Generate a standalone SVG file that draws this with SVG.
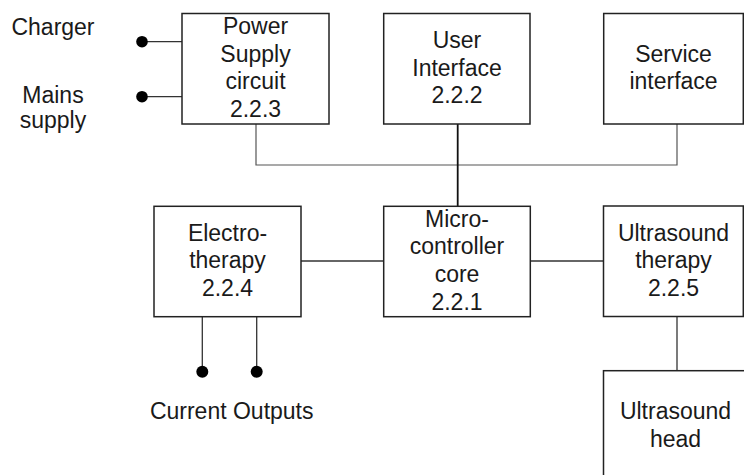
<svg xmlns="http://www.w3.org/2000/svg" width="744" height="475" viewBox="0 0 744 475">
<style>
.box{fill:#fff;stroke:#222;stroke-width:1.5}
.t{font-family:"Liberation Sans",Arial,sans-serif;font-size:23px;fill:#1a1a1a;text-anchor:middle}
.c{fill:none;stroke:#333;stroke-width:1.3}
.bus{fill:none;stroke:#555;stroke-width:1.2}
.dot{fill:#000}
</style>
<rect width="744" height="475" fill="#fff"/>
<g id="connectors">
<polyline class="bus" points="256,124 256,165 677,165 677,124"/>
<line class="c" x1="457.7" y1="124" x2="457.7" y2="206" style="stroke:#111;stroke-width:1.8"/>
<line class="c" x1="142" y1="41.7" x2="182" y2="41.7"/>
<line class="c" x1="142" y1="96.7" x2="182" y2="96.7"/>
<circle class="dot" cx="142" cy="41.7" r="5.8"/>
<circle class="dot" cx="142" cy="96.7" r="5.8"/>
<line class="c" x1="301" y1="261" x2="384" y2="261"/>
<line class="c" x1="530" y1="261" x2="604" y2="261"/>
<line class="c" x1="202.3" y1="317" x2="202.3" y2="371.7"/>
<line class="c" x1="256.7" y1="317" x2="256.7" y2="371.7"/>
<circle class="dot" cx="202.3" cy="371.7" r="6"/>
<circle class="dot" cx="256.7" cy="371.7" r="6"/>
<line class="c" x1="677" y1="316.5" x2="677" y2="370.7"/>
</g>
<g id="labels">
<text class="t" x="53" y="35">Charger</text>
<text class="t" x="53" y="103">Mains</text>
<text class="t" x="53" y="127.5">supply</text>
<text class="t" x="231.7" y="419.3">Current Outputs</text>
</g>
<g id="power">
<rect class="box" x="182" y="13.5" width="147" height="110.5"/>
<text class="t" x="255.5" y="34">Power</text>
<text class="t" x="255.5" y="61.5">Supply</text>
<text class="t" x="255.5" y="89">circuit</text>
<text class="t" x="255.5" y="116.7">2.2.3</text>
</g>
<g id="user">
<rect class="box" x="383.7" y="13.5" width="146.3" height="110.5"/>
<text class="t" x="457" y="47.7">User</text>
<text class="t" x="457" y="76">Interface</text>
<text class="t" x="457" y="103.3">2.2.2</text>
</g>
<g id="service">
<rect class="box" x="603.7" y="13.5" width="139.6" height="110.5"/>
<text class="t" x="673.5" y="61.7">Service</text>
<text class="t" x="673.5" y="89.3">interface</text>
</g>
<g id="electro">
<rect class="box" x="154" y="206.3" width="147" height="110.4"/>
<text class="t" x="227.5" y="240.7">Electro-</text>
<text class="t" x="227.5" y="268.3">therapy</text>
<text class="t" x="227.5" y="296">2.2.4</text>
</g>
<g id="micro">
<rect class="box" x="383.7" y="206.3" width="146.6" height="110.4"/>
<text class="t" x="457" y="226.7">Micro-</text>
<text class="t" x="457" y="254.3">controller</text>
<text class="t" x="457" y="281.7">core</text>
<text class="t" x="457" y="310">2.2.1</text>
</g>
<g id="ultrasound">
<rect class="box" x="603.5" y="206" width="139.8" height="110.5"/>
<text class="t" x="673.5" y="240.7">Ultrasound</text>
<text class="t" x="673.5" y="268.3">therapy</text>
<text class="t" x="673.5" y="295.7">2.2.5</text>
</g>
<g id="head">
<rect class="box" x="603.5" y="370.7" width="160" height="130"/>
<text class="t" x="675.5" y="419.3">Ultrasound</text>
<text class="t" x="675.5" y="446.7">head</text>
</g>
</svg>
